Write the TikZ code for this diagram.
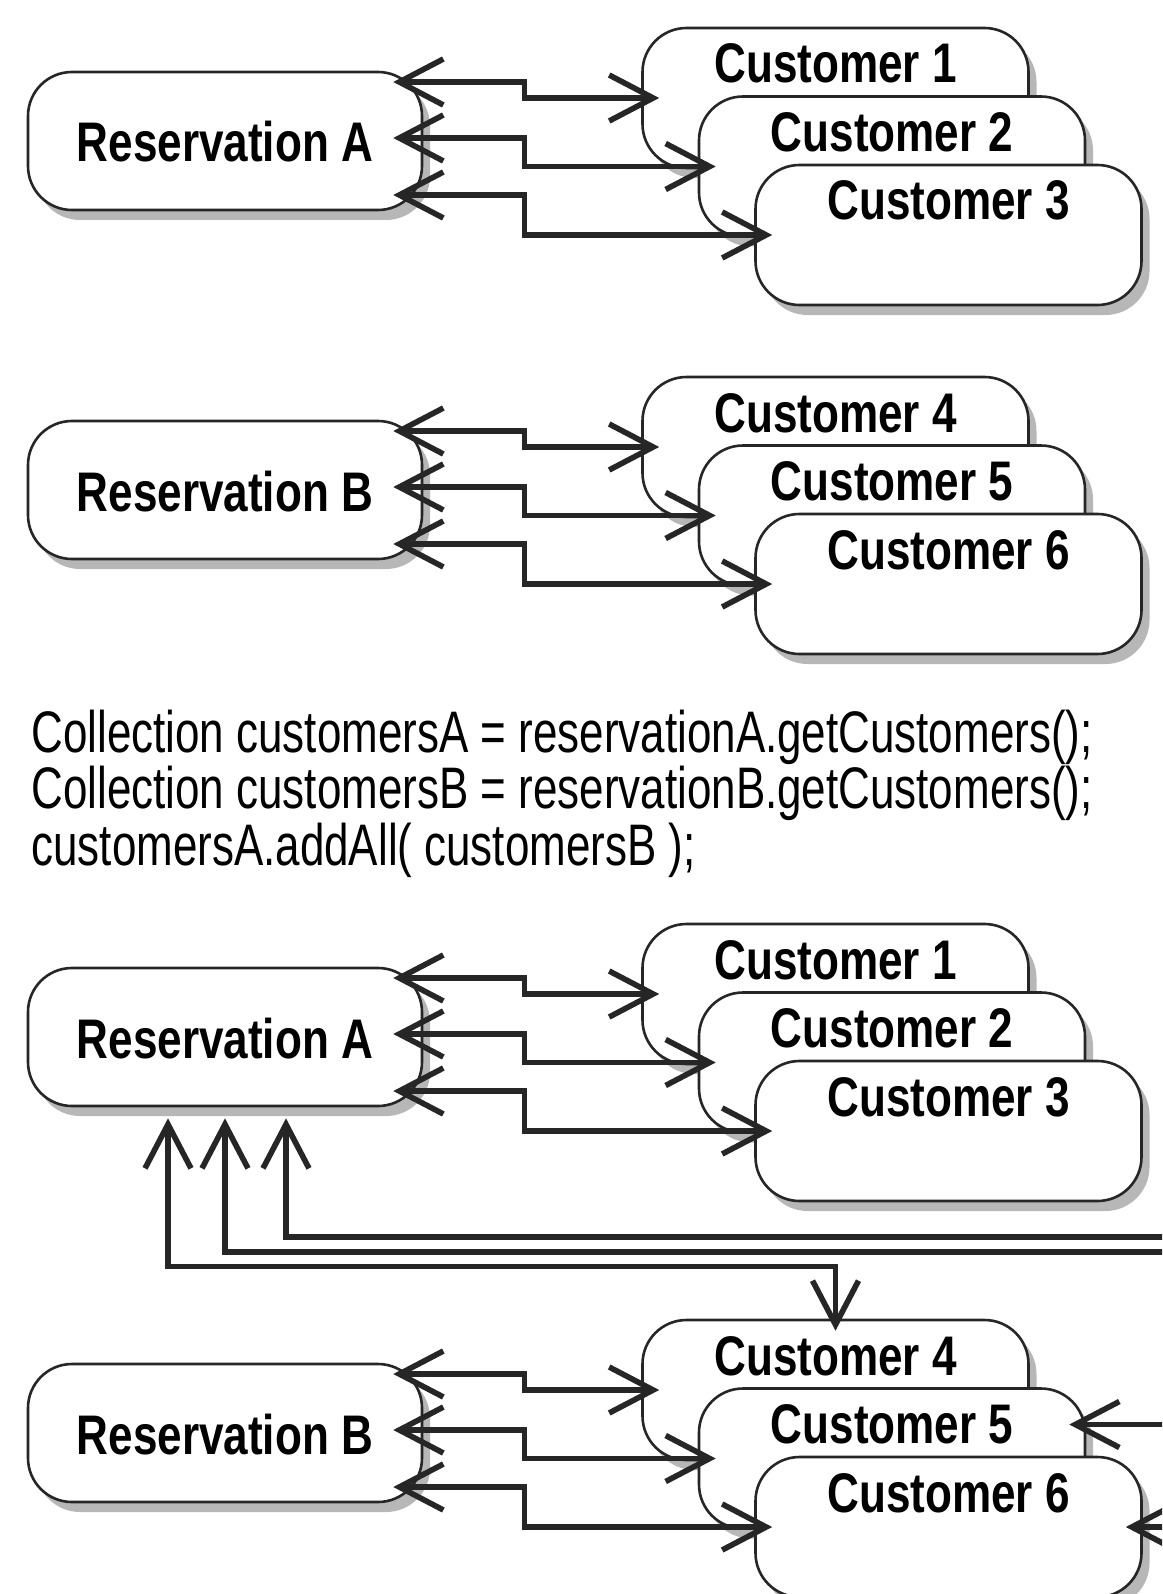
\documentclass[tikz,border=0pt]{standalone}
\usepackage{fontspec}
\setmainfont{Liberation Sans}
\newfontfamily\labelfont[FakeStretch=0.79]{Liberation Sans}
\newfontfamily\codefont[FakeStretch=0.75]{Liberation Sans}
\usetikzlibrary{arrows.meta,calc,shadows}

\begin{document}
\begin{tikzpicture}[
    x=0.5pt, y=-0.5pt,
    >={Straight Barb[length=22pt,width=23pt]},
    box/.style={
        draw=black!85, line width=1.3pt, fill=white,
        rounded corners=22pt, inner xsep=0pt, inner ysep=0pt,
        font=\labelfont\bfseries\fontsize{27.9pt}{30pt}\selectfont,
        drop shadow={shadow xshift=4pt, shadow yshift=-5pt,
                     fill=black!40, opacity=0.7},
    },
    reservation/.style={box, minimum width=197pt,
        text height=45pt, text depth=24pt},
    customer/.style={box, minimum width=193pt,
        text height=27.5pt, text depth=42.5pt},
    link/.style={line width=2.8pt, draw=black!85},
    code/.style={anchor=base west, inner sep=0pt,
        font=\codefont\fontsize{29.3pt}{30pt}\selectfont},
]

% Page frame (units are pixels of the original)
\useasboundingbox (0,0) rectangle (1162,1594);
\clip (0,0) rectangle (1162,1594);
\fill[white] (0,0) rectangle (1162,1594);

% Column positions
\def\resx{225}     % reservation centre
\def\cusx{835.5}   % first customer centre
\def\cdx{56.5}     % shift between stacked customers
\def\cdy{68.5}

% Y offsets of the four blocks (top to bottom)
\def\yA{0}
\def\yB{349}
\def\yC{896}
\def\yD{1292}

% --- Block 1: Reservation A (before) ---
\node[reservation] (tresA) at (\resx, 141+\yA) {Reservation A};
\node[customer] (tc1) at (\cusx, 98+\yA) {Customer 1};
\node[customer] (tc2) at (\cusx+\cdx, 98+\cdy+\yA) {Customer 2};
\node[customer] (tc3) at (\cusx+2*\cdx, 98+2*\cdy+\yA) {Customer 3};
\draw[link,<->] ($(tresA.east)+(-30,-59)$) -- ++(131,0) |- ($(tc1.west)+(18,0)$);
\draw[link,<->] ($(tresA.east)+(-30,-3)$) -- ++(131,0) |- ($(tc2.west)+(18,0)$);
\draw[link,<->] ($(tresA.east)+(-30,54)$) -- ++(131,0) |- ($(tc3.west)+(18,0)$);

% --- Block 2: Reservation B (before) ---
\node[reservation] (tresB) at (\resx, 141+\yB) {Reservation B};
\node[customer] (tc4) at (\cusx, 98+\yB) {Customer 4};
\node[customer] (tc5) at (\cusx+\cdx, 98+\cdy+\yB) {Customer 5};
\node[customer] (tc6) at (\cusx+2*\cdx, 98+2*\cdy+\yB) {Customer 6};
\draw[link,<->] ($(tresB.east)+(-30,-59)$) -- ++(131,0) |- ($(tc4.west)+(18,0)$);
\draw[link,<->] ($(tresB.east)+(-30,-3)$) -- ++(131,0) |- ($(tc5.west)+(18,0)$);
\draw[link,<->] ($(tresB.east)+(-30,54)$) -- ++(131,0) |- ($(tc6.west)+(18,0)$);

% --- Code ---
\node[code] (code1) at (31, 752) {Collection customersA = reservationA.getCustomers();};
\node[code] (code2) at (31, 808.5) {Collection customersB = reservationB.getCustomers();};
\node[code] (code3) at (31, 865) {customersA.addAll( customersB );};

% --- Block 3: Reservation A (after) ---
\node[reservation] (bresA) at (\resx, 141+\yC) {Reservation A};
\node[customer] (bc1) at (\cusx, 98+\yC) {Customer 1};
\node[customer] (bc2) at (\cusx+\cdx, 98+\cdy+\yC) {Customer 2};
\node[customer] (bc3) at (\cusx+2*\cdx, 98+2*\cdy+\yC) {Customer 3};
\draw[link,<->] ($(bresA.east)+(-30,-59)$) -- ++(131,0) |- ($(bc1.west)+(18,0)$);
\draw[link,<->] ($(bresA.east)+(-30,-3)$) -- ++(131,0) |- ($(bc2.west)+(18,0)$);
\draw[link,<->] ($(bresA.east)+(-30,54)$) -- ++(131,0) |- ($(bc3.west)+(18,0)$);

% --- Block 4: Reservation B (after) ---
\node[reservation] (bresB) at (\resx, 141+\yD) {Reservation B};
\node[customer] (bc4) at (\cusx, 98+\yD) {Customer 4};
\node[customer] (bc5) at (\cusx+\cdx, 98+\cdy+\yD) {Customer 5};
\node[customer] (bc6) at (\cusx+2*\cdx, 98+2*\cdy+\yD) {Customer 6};
\draw[link,<->] ($(bresB.east)+(-30,-59)$) -- ++(131,0) |- ($(bc4.west)+(18,0)$);
\draw[link,<->] ($(bresB.east)+(-30,-3)$) -- ++(131,0) |- ($(bc5.west)+(18,0)$);
\draw[link,<->] ($(bresB.east)+(-30,54)$) -- ++(131,0) |- ($(bc6.west)+(18,0)$);

% --- Links added by addAll (run past the right margin) ---
\coordinate (edgeA) at (1170, 1237);
\coordinate (edgeB) at (1170, 1252);
\coordinate (edgeC) at (1170, 1424.5);
\coordinate (edgeD) at (1170, 1527);
\draw[link,->] (edgeA) -| ($(bresA.south)+(61,11)$);
\draw[link,->] (edgeB) -| ($(bresA.south)+(0,11)$);
\draw[link,<->] ($(bresA.south)+(-57,11)$) -- ++(0,148) -| ($(bc4.north)+(0,12)$);
\draw[link,->] (edgeC) -- ($(bc5.east)+(-17,-34)$);
\draw[link,->] (edgeD) -- ($(bc6.east)+(-17,0)$);

\end{tikzpicture}
\end{document}
